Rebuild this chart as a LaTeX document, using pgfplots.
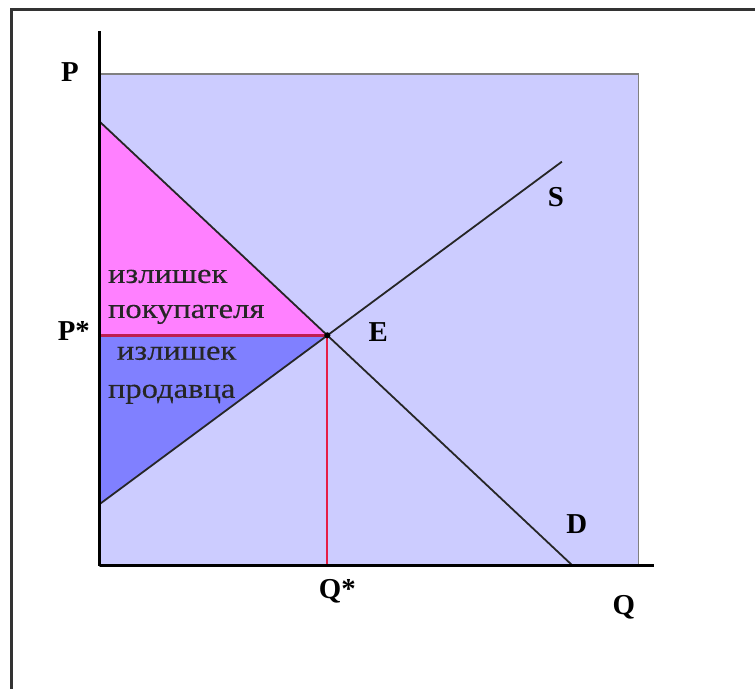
\documentclass[border=0pt]{standalone}
\usepackage{fontspec}
\setmainfont{Liberation Serif}
\newfontfamily\wide[FakeStretch=1.17, FakeBold=0.4]{Liberation Serif}
\usepackage{pgfplots}
\pgfplotsset{compat=1.18}

\definecolor{field}{RGB}{204,204,255}
\definecolor{buyer}{RGB}{255,128,255}
\definecolor{seller}{RGB}{128,128,255}
\definecolor{pline}{RGB}{190,30,80}
\definecolor{qline}{RGB}{230,30,70}

\begin{document}
\begin{tikzpicture}[
    lbl/.style={font=\bfseries\fontsize{29}{29}\selectfont},
    txt/.style={anchor=west, inner sep=0pt, text=black!85, font=\wide\fontsize{28}{28}\selectfont},
]
\begin{axis}[
    scale only axis,
    width=555bp, height=536bp,
    xmin=0, xmax=555, ymin=0, ymax=536,
    axis lines=left,
    axis line style={line width=3bp, -},
    ticks=none,
    axis on top,
    clip=false,
]
    % field
    \addplot[fill=field, draw=gray, line width=1.5pt] coordinates {
        (0,0) (540,0) (540,493) (0,493)
    } -- cycle;
    % consumer surplus
    \addplot[fill=buyer, draw=none] coordinates {(0,445) (228,231) (0,231)} -- cycle;
    % producer surplus
    \addplot[fill=seller, draw=none] coordinates {(0,231) (228,231) (0,62)} -- cycle;
    % P* and Q*
    \addplot[color=pline, line width=2.6pt] coordinates {(0,231) (228,231)};
    \addplot[color=qline, line width=2.2pt] coordinates {(228,231) (228,0)};
    % demand and supply
    \addplot[color=black!85, line width=1.8pt] coordinates {(0,445) (474,0)};
    \addplot[color=black!85, line width=1.8pt] coordinates {(0,62) (463,405)};
    \addplot[only marks, mark=*, mark size=2.8pt, black] coordinates {(228,231)};

    \node[lbl] at (axis cs:-30,495) {P};
    \node[lbl] at (axis cs:-26,235) {P*};
    \node[lbl] at (axis cs:279,234) {E};
    \node[lbl] at (axis cs:457,370) {S};
    \node[lbl] at (axis cs:478,42) {D};
    \node[lbl] at (axis cs:238,-25) {Q*};
    \node[lbl] at (axis cs:525,-41) {Q};

    \node[txt] at (axis cs:8,290) {излишек};
    \node[txt] at (axis cs:8,252) {покупателя};
    \node[txt] at (axis cs:17,213) {излишек};
    \node[txt] at (axis cs:8,172) {продавца};

    % outer frame
    \draw[black!80, line width=3pt] (axis cs:-88,-123) -- (axis cs:-88,557) -- (axis cs:656,557);
    \coordinate (bl) at (axis cs:-100,-123);
    \coordinate (tr) at (axis cs:656,567);
\end{axis}
\path[use as bounding box] (bl) rectangle (tr);
\end{tikzpicture}
\end{document}
